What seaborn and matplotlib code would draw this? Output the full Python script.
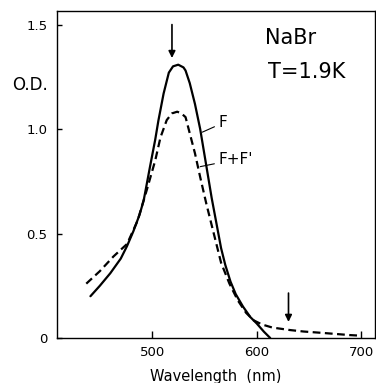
import numpy as np
import matplotlib
matplotlib.use("Agg")
import matplotlib.pyplot as plt
import seaborn as sns
import pandas as pd

# F band only (solid)
wl_f = [441, 450, 460, 470, 476, 482, 488, 492, 498, 503, 506, 511, 516, 520, 525,
        530, 532, 536, 541, 546, 549, 551, 554, 557, 560, 563, 566, 570, 575, 580,
        587, 594, 600, 607, 613]
od_f = [0.20, 0.25, 0.31, 0.38, 0.44, 0.51, 0.59, 0.66, 0.82, 0.95, 1.04, 1.17, 1.27, 1.30, 1.308,
        1.295, 1.28, 1.22, 1.12, 1.00, 0.91, 0.85, 0.76, 0.67, 0.59, 0.51, 0.43, 0.35, 0.27, 0.21,
        0.15, 0.10, 0.07, 0.03, 0.0]

# F + F' (dashed)
wl_ff = [437, 450, 463, 476, 486, 495, 503, 508, 514, 519, 524, 528, 532, 536, 541, 546,
         552, 559, 566, 574, 582, 590, 597, 605, 615, 632, 645, 664, 689, 700]
od_ff = [0.26, 0.32, 0.39, 0.45, 0.56, 0.71, 0.85, 0.96, 1.043, 1.075, 1.083, 1.075, 1.057, 0.98, 0.884, 0.77,
         0.64, 0.50, 0.36, 0.26, 0.18, 0.12, 0.085, 0.065, 0.05, 0.038, 0.031, 0.024, 0.014, 0.011]

x_ticks = [500, 600, 700]
y_ticks = [0, 0.5, 1.0, 1.5]
y_ticklabels = ["0", "0.5", "1.0", "1.5"]

# arrows marking band positions
arrow_wl = [519, 630.5]
arrow_top = [1.50, 0.215]
arrow_bot = [1.34, 0.077]

sns.set_style("ticks")
plt.rcParams['font.family'] = ['DejaVu Sans']
plt.rcParams['text.color'] = 'black'
plt.rcParams['axes.labelcolor'] = 'black'
plt.rcParams['xtick.color'] = 'black'
plt.rcParams['ytick.color'] = 'black'

df_f = pd.DataFrame({"wl": wl_f, "od": od_f})
df_ff = pd.DataFrame({"wl": wl_ff, "od": od_ff})

fig = plt.figure(figsize=(3.76, 3.83), dpi=100)
ax = fig.add_axes([0.1516, 0.1175, 0.845, 0.8538])

sns.lineplot(data=df_f, x="wl", y="od", ax=ax, color="black", lw=1.6,
             estimator=None, sort=False)
sns.lineplot(data=df_ff, x="wl", y="od", ax=ax, color="black", lw=1.6,
             estimator=None, sort=False, linestyle=(0, (3.5, 2)))

ax.set_xlim(409, 713)
ax.set_ylim(0, 1.565)
ax.set_xticks(x_ticks)
ax.set_yticks(y_ticks)
ax.set_yticklabels(y_ticklabels)
ax.tick_params(axis="x", direction="in", length=5, width=1, labelsize=9.5, pad=6)
ax.tick_params(axis="y", direction="in", length=3.5, width=1, labelsize=9.5, pad=7)
for s in ax.spines.values():
    s.set_linewidth(1.0)
    s.set_color("black")

ax.set_xlabel("Wavelength  (nm)", fontsize=10.5, labelpad=7)
ax.set_ylabel("")
ax.text(-0.14, 0.775, "O.D.", transform=ax.transAxes, fontsize=12,
        ha="left", va="center")

for x, y0, y1 in zip(arrow_wl, arrow_top, arrow_bot):
    ax.annotate("", xy=(x, y1), xytext=(x, y0),
                arrowprops=dict(arrowstyle="-|>", color="black", lw=1.2,
                                mutation_scale=10, shrinkA=0, shrinkB=0))

ax.text(0.654, 0.917, "NaBr", transform=ax.transAxes, fontsize=15, ha="left", va="center")
ax.text(0.665, 0.813, "T=1.9K", transform=ax.transAxes, fontsize=15, ha="left", va="center")

# curve labels with leader lines
ax.annotate("F", xy=(548, 0.985), xytext=(564, 1.03), fontsize=11, va="center",
            arrowprops=dict(arrowstyle="-", color="black", lw=0.8, shrinkA=1, shrinkB=0))
ax.annotate("F+F'", xy=(546, 0.82), xytext=(564, 0.855), fontsize=11, va="center",
            arrowprops=dict(arrowstyle="-", color="black", lw=0.8, shrinkA=1, shrinkB=0))

fig.savefig("out.png", dpi=100)
